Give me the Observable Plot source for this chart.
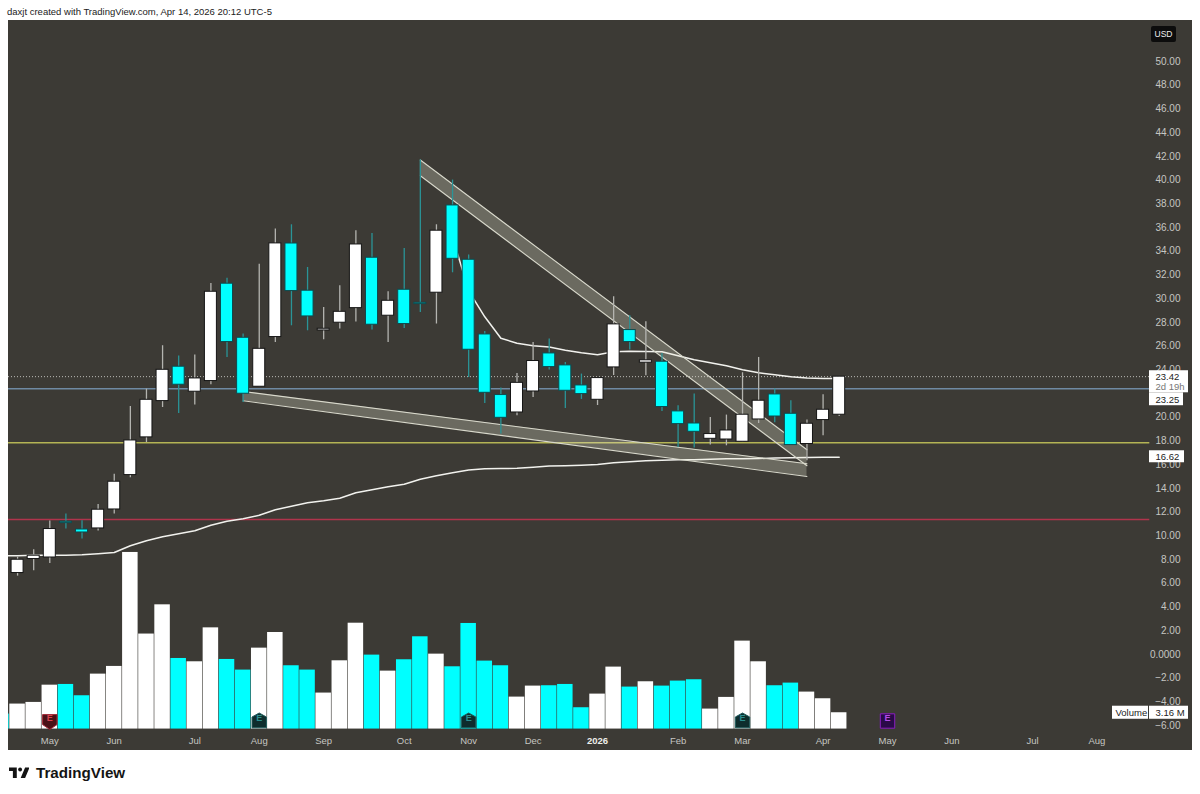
<!DOCTYPE html>
<html>
<head>
<meta charset="utf-8">
<script src="https://cdn.jsdelivr.net/npm/d3@7"></script>
<script src="https://cdn.jsdelivr.net/npm/@observablehq/plot@0.6"></script>
<style>
	html, body {margin: 0; background: #fff; font-family: "Liberation Sans", sans-serif;}
	#wrap {position: relative; width: 1200px; height: 794px; overflow: hidden;}
	#head {position: absolute; left: 7px; top: 6px; font-size: 9.5px; color: #222; white-space: nowrap;}
	#chart {position: absolute; left: 8px; top: 20px;}
	#chart svg {display: block;}
	#usd {position: absolute; left: 1151px; top: 26px; width: 25px; height: 16px; line-height: 16px; background: #0c0c0c; color: #eee; border-radius: 2px; font-size: 8.5px; text-align: center;}
	#logo {position: absolute; left: 9px; top: 764px; display: flex; align-items: center; gap: 7px; font-size: 15.2px; font-weight: 700; color: #141414;}
</style>
</head>
<body>
<div id="wrap">
	<div id="head">daxjt created with TradingView.com, Apr 14, 2026 20:12 UTC-5</div>
	<div id="chart"></div>
	<div id="usd">USD</div>
	<div id="logo">
		<svg width="20" height="13" viewBox="0 0 36 22"><path fill="#141414" d="M14 2H0v6.500h7V21h7ZM29 2h8l-8 19h-8Z"/><circle fill="#141414" cx="20" cy="5.500" r="3.500"/></svg>
		<span>TradingView</span>
	</div>
</div>
<script>
// data
const opens = [6.86, 8.04, 8.17, 11.18, 10.53, 10.62, 12.22, 15.12, 18.3, 21.36, 24.26, 22.15, 23.05, 31.26, 26.7, 22.57, 26.76, 34.65, 30.67, 27.32, 27.97, 29.2, 33.45, 28.56, 30.75, 29.65, 30.5, 37.86, 33.28, 26.98, 21.87, 20.4, 22.17, 25.38, 24.37, 22.68, 21.47, 24.2, 27.35, 24.6, 24.68, 20.49, 19.47, 18.18, 18.12, 17.93, 19.81, 21.92, 20.29, 17.74, 19.76, 20.21];
const closes = [7.98, 8.32, 10.57, 11.07, 10.28, 12.2, 14.56, 18.04, 21.47, 24.0, 22.74, 23.27, 30.58, 26.34, 21.98, 25.77, 34.66, 30.64, 28.5, 27.46, 28.89, 34.57, 27.8, 29.82, 27.86, 29.54, 35.73, 33.36, 25.69, 22.06, 19.95, 22.9, 24.74, 24.23, 22.23, 21.95, 23.3, 27.83, 26.34, 24.8, 20.86, 19.42, 18.77, 18.58, 18.88, 20.21, 21.39, 20.06, 17.65, 19.45, 20.63, 23.42];
const highs = [8.2, 8.82, 11.24, 11.83, 11.27, 12.64, 15.2, 20.9, 22.37, 26.03, 25.16, 25.24, 31.28, 31.73, 27.01, 32.91, 35.87, 36.23, 32.63, 29.26, 31.09, 35.73, 35.5, 30.58, 34.23, 41.69, 36.23, 40.0, 33.68, 27.23, 22.46, 23.69, 26.31, 26.59, 24.62, 23.64, 23.3, 30.16, 28.56, 28.05, 25.38, 20.97, 21.95, 19.98, 20.18, 23.75, 25.04, 22.37, 21.39, 19.76, 21.9, 23.42];
const lows = [6.6, 7.05, 7.67, 10.57, 9.72, 10.4, 11.83, 14.89, 17.87, 20.82, 20.32, 21.03, 22.74, 25.04, 21.25, 22.57, 26.3, 27.71, 27.29, 26.53, 27.43, 28.03, 27.35, 26.3, 27.49, 28.84, 27.86, 32.18, 23.35, 21.16, 18.58, 20.12, 21.67, 23.98, 20.74, 21.5, 20.99, 23.52, 25.66, 23.5, 20.49, 17.45, 17.4, 17.65, 17.59, 17.93, 19.47, 19.53, 17.65, 16.33, 18.44, 20.06];

// in millions, starts one week earlier than the candles (sliver at the left edge)
const volumes = [2.9, 4.84, 5.16, 8.5, 8.64, 6.45, 10.64, 12.13, 34.2, 18.4, 24.06, 13.67, 13.03, 19.6, 13.48, 11.42, 15.67, 18.7, 12.26, 11.42, 6.97, 13.22, 20.5, 14.32, 11.22, 13.42, 17.87, 14.51, 12.06, 20.45, 13.16, 12.26, 6.19, 8.32, 8.39, 8.64, 4.13, 6.77, 12.0, 8.13, 9.16, 8.32, 9.29, 9.55, 3.87, 6.13, 17.03, 13.03, 8.39, 8.9, 7.16, 5.87, 3.16];

// also starts one week earlier, so it reaches the left edge
const slowMa = [8.32, 8.32, 8.36, 8.36, 8.36, 8.4, 8.48, 8.59, 9.16, 9.58, 9.92, 10.17, 10.42, 10.89, 11.23, 11.44, 11.73, 12.2, 12.49, 12.79, 12.95, 13.17, 13.63, 13.88, 14.14, 14.35, 14.77, 15.06, 15.32, 15.54, 15.65, 15.67, 15.69, 15.78, 15.88, 15.91, 15.95, 16.02, 16.16, 16.24, 16.33, 16.37, 16.41, 16.41, 16.45, 16.5, 16.5, 16.52, 16.56, 16.58, 16.61, 16.63, 16.62];
// starts at candle 27
const fastMa = [35.2, 30.66, 28.47, 26.66, 26.24, 26.03, 25.92, 25.65, 25.44, 25.27, 25.52, 25.56, 25.55, 25.52, 25.18, 24.84, 24.6, 24.34, 24.0, 23.75, 23.58, 23.41, 23.3, 23.27, 23.27];

// 22.00 sits fully behind the price tags in the picture, so it is left out
const priceTicks = [50, 48, 46, 44, 42, 40, 38, 36, 34, 32, 30, 28, 26, 24, 20, 18, 16, 14, 12, 10, 8, 6, 4, 2, 0, -2, -4, -6];
const monthTicks = ['2025-05-05', '2025-06-02', '2025-07-07', '2025-08-04', '2025-09-01', '2025-10-06', '2025-11-03', '2025-12-01', '2026-02-02', '2026-03-02', '2026-04-06', '2026-05-04', '2026-06-01', '2026-07-06', '2026-08-03'].map(d => new Date(d));
const yearTicks = [new Date('2025-12-29')];

const hLines = [{price: 22.4, color: '#6f8aa3'}, {price: 17.85, color: '#b4b455'}, {price: 11.38, color: '#b0344c'}];
const lastPrice = 23.42;

const pastEarnings = ['2025-08-04', '2025-11-03', '2026-03-02'].map(d => new Date(d));
const missedEarnings = [new Date('2025-05-05')];
const nextEarnings = [new Date('2026-05-04')];

const channels = [
	{from: 25, to: 49, top: [41.69, 17.26], bottom: [40.36, 15.91]},
	{from: 14, to: 49, top: [22.17, 16.07], bottom: [21.39, 15.0]}
];


// layout
const width = 1184;
const height = 730;
const week = 7 * 864e5;
const pxPerWeek = 16.11;
const px = week / pxPerWeek;
const may5 = +new Date('2025-05-05');
const bodyHalf = 6 * px;
const volHalf = 7.75 * px;
const paneStart = new Date(may5 - 41.3 * px);
const paneEnd = new Date(may5 + 1100 * px);

// volume sits at the bottom of the price pane
const volBase = -6.3;
const volRatio = 0.4355;
const volY = v => volBase + v * volRatio;


// earnings badge shapes
const symbolRadius = size => Math.sqrt(size / Math.PI);
const shieldDown = {draw(context, size) {
	const r = symbolRadius(size);
	context.moveTo(-r * 0.9, -r * 0.8);
	context.lineTo(r * 0.9, -r * 0.8);
	context.lineTo(r * 0.9, r * 0.45);
	context.lineTo(0, r * 1.05);
	context.lineTo(-r * 0.9, r * 0.45);
	context.closePath();
}};
const houseUp = {draw(context, size) {
	const r = symbolRadius(size);
	context.moveTo(0, -r);
	context.lineTo(r * 0.9, -r * 0.5);
	context.lineTo(r * 0.9, r * 0.85);
	context.lineTo(-r * 0.9, r * 0.85);
	context.lineTo(-r * 0.9, -r * 0.5);
	context.closePath();
}};
const square = {draw(context, size) {
	const r = symbolRadius(size);
	context.rect(-r * 0.9, -r * 0.9, r * 1.8, r * 1.8);
}};


// tables
const dates = d3.utcMonday.range(new Date('2025-04-21'), new Date('2026-04-14'));
const candles = dates.map((date, i) => ({date, open: opens[i], close: closes[i], high: highs[i], low: lows[i], up: closes[i] >= opens[i]}));
const volumeRows = volumes.map((v, i) => ({
	date: new Date(+dates[0] + (i - 1) * week),
	v,
	up: i > 0 && candles[i - 1].up
}));
const slowRows = slowMa.map((v, i) => ({date: new Date(+dates[0] + (i - 1) * week), v}));
const fastRows = fastMa.map((v, i) => ({date: dates[i + 27], v}));


// plot
const edge = '#d9d9cc';
const tickColor = '#c6c6c2';

let fig = Plot.plot({
	width,
	height,
	margin: 0,
	style: {background: '#3c3a35', fontFamily: '"Liberation Sans", sans-serif', fontSize: '10px'},
	x: {type: 'utc', domain: [paneStart, new Date(may5 + (width - 41.3) * px)], axis: null},
	y: {domain: [-8.108, 53.458], range: [height, 0], axis: null},
	marks: [
		Plot.ruleY(hLines, {y: 'price', x1: () => paneStart, x2: () => paneEnd, stroke: 'color', strokeWidth: 1.5}),
		Plot.ruleY([lastPrice], {x1: () => paneStart, x2: () => paneEnd, stroke: '#e8e8e4', strokeWidth: 1, strokeDasharray: '1,2', strokeOpacity: 0.75}),

		// volume
		Plot.rect(volumeRows, {
			x1: d => new Date(+d.date - volHalf),
			x2: d => new Date(+d.date + volHalf),
			y1: () => volBase,
			y2: d => volY(d.v),
			fill: d => d.up ? '#ffffff' : '#00ffff'
		}),

		// moving averages
		Plot.line(slowRows, {x: 'date', y: 'v', stroke: '#f2f2ee', strokeWidth: 1.5}),
		Plot.line(fastRows, {x: 'date', y: 'v', stroke: '#f2f2ee', strokeWidth: 1.5}),

		// falling channels
		...channels.flatMap(c => {
			const pts = [0, 1].map(k => ({date: dates[k ? c.to : c.from], top: c.top[k], bottom: c.bottom[k]}));
			return [
				Plot.areaY(pts, {x: 'date', y1: 'bottom', y2: 'top', fill: '#eeeed8', fillOpacity: 0.27}),
				Plot.line(pts, {x: 'date', y: 'top', stroke: edge, strokeWidth: 1.1}),
				Plot.line(pts, {x: 'date', y: 'bottom', stroke: edge, strokeWidth: 1.1})
			];
		}),

		// candles
		Plot.ruleX(candles, {x: 'date', y1: 'low', y2: 'high', stroke: d => d.up ? '#b4b4b0' : '#2a9497', strokeWidth: 1.3}),
		Plot.rect(candles, {
			x1: d => new Date(+d.date - bodyHalf),
			x2: d => new Date(+d.date + bodyHalf),
			y1: 'open',
			y2: 'close',
			fill: d => d.up ? '#ffffff' : '#00ffff',
			stroke: d => d.up ? '#151515' : '#0d4a4e',
			strokeWidth: 1
		}),

		// axes
		Plot.axisY(priceTicks, {
			anchor: 'right',
			tickSize: 0,
			tickPadding: 0,
			dx: -12,
			textAnchor: 'end',
			tickFormat: d => d === 0 ? '0.0000' : d3.format('.2f')(d),
			fill: tickColor,
			fontSize: 10
		}),
		Plot.axisX(monthTicks, {
			anchor: 'bottom',
			tickSize: 0,
			tickPadding: -13,
			tickFormat: d3.utcFormat('%b'),
			fill: tickColor,
			fontSize: 9.5
		}),
		Plot.axisX(yearTicks, {
			anchor: 'bottom',
			tickSize: 0,
			tickPadding: -13,
			tickFormat: () => '2026',
			fill: '#eeeeea',
			fontSize: 9.5,
			fontWeight: 'bold'
		}),

		// price tags
		Plot.rect([[23.92, 22.06]], {y1: d => d[0], y2: d => d[1], insetLeft: 1141, insetRight: 4, fill: '#fff'}),
		Plot.rect([[22.06, 20.97]], {y1: d => d[0], y2: d => d[1], insetLeft: 1141, insetRight: 9, fill: '#fff'}),
		Plot.rect([[17.17, 16.16]], {y1: d => d[0], y2: d => d[1], insetLeft: 1141, insetRight: 8, fill: '#fff'}),
		Plot.rect([[volY(3.16) + 0.55, volY(3.16) - 0.55]], {y1: d => d[0], y2: d => d[1], insetLeft: 1104, insetRight: 44, fill: '#fff'}),
		Plot.rect([[volY(3.16) + 0.55, volY(3.16) - 0.55]], {y1: d => d[0], y2: d => d[1], insetLeft: 1141, insetRight: 4, fill: '#fff'}),
		Plot.text([
			{price: 23.42, label: '23.42', fill: '#222'},
			{price: 22.53, label: '2d 19h', fill: '#777'},
			{price: 21.47, label: '23.25', fill: '#222'},
			{price: 16.62, label: '16.62', fill: '#222'},
			{price: volY(3.16), label: '3.16 M', fill: '#222'}
		], {y: 'price', text: 'label', fill: 'fill', frameAnchor: 'left', dx: 1147, textAnchor: 'start', fontSize: 9.5}),
		Plot.text([{price: volY(3.16), label: 'Volume'}], {y: 'price', text: 'label', fill: '#222', frameAnchor: 'left', dx: 1107, textAnchor: 'start', fontSize: 9.5}),

		// earnings
		...earningsMarks(missedEarnings, shieldDown, '#4a1116', '#a32634', '#d9434f'),
		...earningsMarks(pastEarnings, houseUp, '#0e2d2d', '#1f5c5c', '#2c9090'),
		...earningsMarks(nextEarnings, square, '#2a0a48', '#8a1cc0', '#b44be6')
	]
});

document.querySelector('#chart').append(fig);


// helpers
function earningsMarks(rows, symbol, fill, stroke, ink) {
	return [
		Plot.dot(rows, {x: d => d, frameAnchor: 'bottom', dy: -29.5, symbol, r: 8, fill, stroke, strokeWidth: 1}),
		Plot.text(rows, {x: d => d, text: () => 'E', frameAnchor: 'bottom', dy: -29.5, textAnchor: 'middle', fill: ink, fontSize: 9, fontWeight: 'bold'})
	];
}
</script>
</body>
</html>
